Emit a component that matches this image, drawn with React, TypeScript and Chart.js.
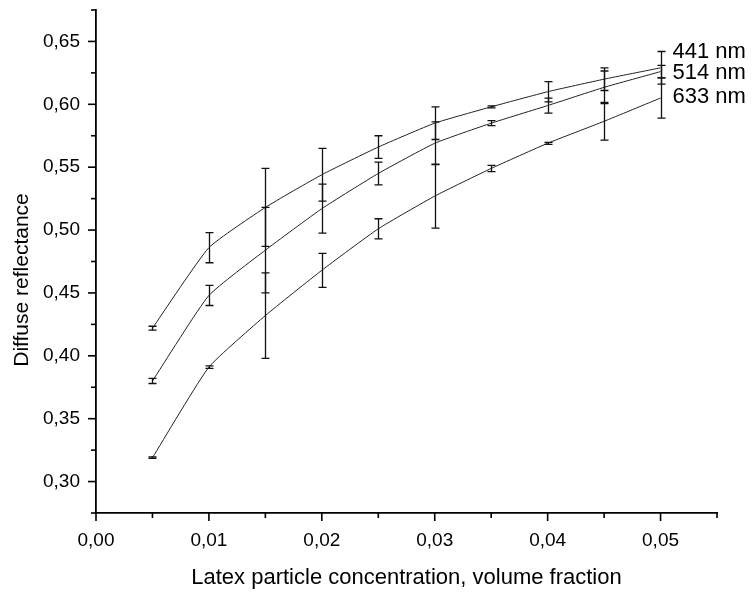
import React, { useEffect, useRef } from "react";
import { Chart, registerables } from "chart.js";

Chart.register(...registerables);

// Latex particle concentration (volume fraction)
const concentrations = [0.005, 0.01, 0.015, 0.02, 0.025, 0.03, 0.035, 0.04, 0.045, 0.05];

// Diffuse reflectance values and error (half-widths)
const r441 = [0.422, 0.486, 0.518, 0.544, 0.566, 0.585, 0.598, 0.61, 0.62, 0.629];
const e441 = [0.0015, 0.012, 0.031, 0.021, 0.009, 0.013, 0.0008, 0.008, 0.009, 0.013];
const r514 = [0.38, 0.448, 0.484, 0.517, 0.545, 0.569, 0.585, 0.599, 0.6135, 0.626];
const e514 = [0.002, 0.008, 0.034, 0.0195, 0.009, 0.017, 0.002, 0.006, 0.013, 0.005];
const r633 = [0.319, 0.391, 0.432, 0.468, 0.501, 0.527, 0.549, 0.569, 0.5865, 0.605];
const e633 = [0.0006, 0.001, 0.034, 0.0135, 0.008, 0.0255, 0.0025, 0.0008, 0.015, 0.016];

const seriesNames = ["441 nm", "514 nm", "633 nm"];
const seriesLabelY = [0.642, 0.6246, 0.6056];

const xTickValues = [0, 0.005, 0.01, 0.015, 0.02, 0.025, 0.03, 0.035, 0.04, 0.045, 0.05, 0.055];
const yTickValues = [
  0.275, 0.3, 0.325, 0.35, 0.375, 0.4, 0.425, 0.45, 0.475, 0.5, 0.525, 0.55, 0.575, 0.6, 0.625, 0.65, 0.675,
];

const xTitle = "Latex particle concentration, volume fraction";
const yTitle = "Diffuse reflectance";

const FONT = "'Liberation Sans', Arial, Helvetica, sans-serif";

const isMultiple = (v: number, step: number) => Math.abs(Math.round(v / step) - v / step) < 1e-6;
const fmt = (v: number) => v.toFixed(2).replace(".", ",");

export default function App() {
  const canvasRef = useRef<HTMLCanvasElement | null>(null);

  useEffect(() => {
    const canvas = canvasRef.current;
    if (!canvas) return;

    const series = [r441, r514, r633];
    const errors = [e441, e514, e633];

    const overlay = {
      id: "overlay",
      afterDatasetsDraw(chart: any) {
        const ctx = chart.ctx as CanvasRenderingContext2D;
        const xs = chart.scales.x;
        const ys = chart.scales.y;
        ctx.save();
        ctx.strokeStyle = "#111";
        ctx.lineWidth = 1.3;
        series.forEach((vals, si) => {
          const errs = errors[si];
          concentrations.forEach((c, i) => {
            const px = Math.round(xs.getPixelForValue(c)) + 0.5;
            const top = ys.getPixelForValue(vals[i] + errs[i]);
            const bot = ys.getPixelForValue(vals[i] - errs[i]);
            ctx.beginPath();
            ctx.moveTo(px, top);
            ctx.lineTo(px, bot);
            ctx.moveTo(px - 4, top);
            ctx.lineTo(px + 4, top);
            ctx.moveTo(px - 4, bot);
            ctx.lineTo(px + 4, bot);
            ctx.stroke();
          });
        });
        ctx.restore();
      },
      afterDraw(chart: any) {
        const ctx = chart.ctx as CanvasRenderingContext2D;
        const xs = chart.scales.x;
        const ys = chart.scales.y;
        const area = chart.chartArea;
        ctx.save();
        ctx.strokeStyle = "#000";
        ctx.lineWidth = 1.6;
        xs.ticks.forEach((t: any) => {
          const px = xs.getPixelForValue(t.value);
          const len = isMultiple(t.value, 0.01) ? 8 : 5;
          ctx.beginPath();
          ctx.moveTo(px, area.bottom);
          ctx.lineTo(px, area.bottom + len);
          ctx.stroke();
        });
        ys.ticks.forEach((t: any) => {
          const py = ys.getPixelForValue(t.value);
          const len = isMultiple(t.value, 0.05) ? 8 : 5;
          ctx.beginPath();
          ctx.moveTo(area.left, py);
          ctx.lineTo(area.left - len, py);
          ctx.stroke();
        });
        ctx.fillStyle = "#000";
        ctx.font = `22px ${FONT}`;
        ctx.textAlign = "left";
        ctx.textBaseline = "middle";
        const lx = xs.getPixelForValue(concentrations[concentrations.length - 1]) + 12;
        seriesNames.forEach((name, i) => {
          ctx.fillText(name, lx, ys.getPixelForValue(seriesLabelY[i]));
        });
        ctx.textAlign = "center";
        ctx.font = `22px ${FONT}`;
        ctx.fillText(xTitle, (area.left + area.right) / 2, 578);
        ctx.font = `21px ${FONT}`;
        ctx.translate(22, 280);
        ctx.rotate(-Math.PI / 2);
        ctx.fillText(yTitle, 0, 0);
        ctx.restore();
      },
    };

    const lineDs = (data: number[], label: string) => ({
      label,
      data: concentrations.map((c, i) => ({ x: c, y: data[i] })),
      borderColor: "#222",
      borderWidth: 1,
      pointRadius: 0,
      tension: 0.15,
      fill: false,
    });

    const chart = new Chart(canvas, {
      type: "line",
      data: {
        datasets: [lineDs(r441, seriesNames[0]), lineDs(r514, seriesNames[1]), lineDs(r633, seriesNames[2])],
      },
      options: {
        animation: false,
        responsive: false,
        maintainAspectRatio: false,
        layout: { padding: { top: 10, right: 37, left: 0, bottom: 0 } },
        plugins: { legend: { display: false }, tooltip: { enabled: false }, title: { display: false } },
        scales: {
          x: {
            type: "linear",
            min: 0,
            max: 0.055,
            afterBuildTicks: (s: any) => {
              s.ticks = xTickValues.map((v) => ({ value: v }));
            },
            afterFit: (s: any) => {
              s.height = 81;
              s.paddingLeft = 0;
              s.paddingRight = 0;
            },
            ticks: {
              autoSkip: false,
              maxRotation: 0,
              padding: 16,
              color: "#000",
              font: { family: FONT, size: 19 },
              callback: (v: any) => (isMultiple(Number(v), 0.01) ? fmt(Number(v)) : ""),
            },
            grid: { display: true, drawOnChartArea: false, drawTicks: false },
            border: { display: true, color: "#000", width: 1.8 },
          },
          y: {
            type: "linear",
            min: 0.275,
            max: 0.675,
            afterBuildTicks: (s: any) => {
              s.ticks = yTickValues.map((v) => ({ value: v }));
            },
            afterFit: (s: any) => {
              s.width = 96;
              s.paddingTop = 0;
              s.paddingBottom = 0;
            },
            ticks: {
              autoSkip: false,
              padding: 16,
              color: "#000",
              font: { family: FONT, size: 19 },
              callback: (v: any) => (isMultiple(Number(v), 0.05) ? fmt(Number(v)) : ""),
            },
            grid: { display: true, drawOnChartArea: false, drawTicks: false },
            border: { display: true, color: "#000", width: 1.8 },
          },
        },
      },
      plugins: [overlay],
    } as any);

    return () => chart.destroy();
  }, []);

  return (
    <div style={{ position: "fixed", left: 0, top: 0, width: 754, height: 594, background: "#fff" }}>
      <canvas ref={canvasRef} width={754} height={594} style={{ display: "block", width: 754, height: 594 }} />
    </div>
  );
}
